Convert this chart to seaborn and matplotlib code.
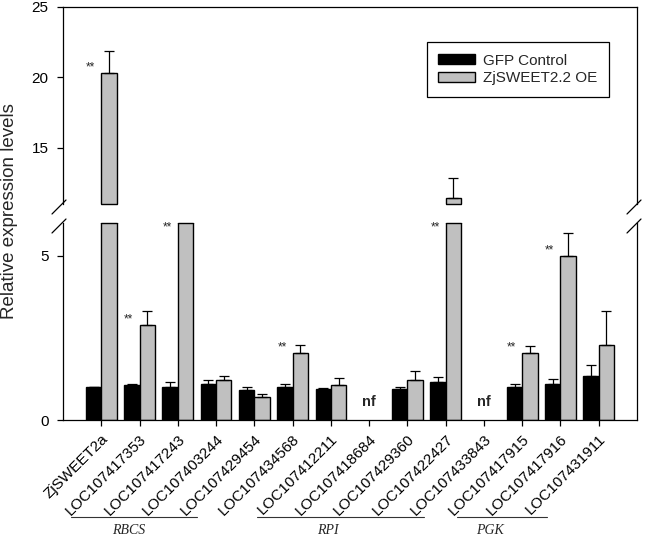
import numpy as np
import pandas as pd
import matplotlib
matplotlib.use("Agg")
import matplotlib.pyplot as plt
import matplotlib.transforms as mtransforms
from matplotlib.lines import Line2D
import seaborn as sns

# ---------------- data ----------------
genes = ["ZjSWEET2a", "LOC107417353", "LOC107417243", "LOC107403244",
         "LOC107429454", "LOC107434568", "LOC107412211", "LOC107418684",
         "LOC107429360", "LOC107422427", "LOC107433843", "LOC107417915",
         "LOC107417916", "LOC107431911"]
groups = ["GFP Control", "ZjSWEET2.2 OE"]
control = [1.00, 1.06, 1.02, 1.11, 0.91, 1.02, 0.94, np.nan,
           0.95, 1.16, np.nan, 1.01, 1.09, 1.35]
control_err = [0.02, 0.04, 0.13, 0.10, 0.10, 0.08, 0.04, np.nan,
               0.06, 0.16, np.nan, 0.09, 0.17, 0.31]
oe = [20.3, 2.90, 8.0, 1.23, 0.70, 2.04, 1.08, np.nan,
      1.21, 11.45, np.nan, 2.04, 5.00, 2.28]
oe_err = [1.6, 0.42, 0.5, 0.11, 0.09, 0.23, 0.19, np.nan,
          0.28, 1.37, np.nan, 0.22, 0.71, 1.04]
significant = ["ZjSWEET2a", "LOC107417353", "LOC107417243", "LOC107434568",
               "LOC107422427", "LOC107417915", "LOC107417916"]
not_found = ["LOC107418684", "LOC107433843"]
gene_groups = ["RBCS", "RPI", "PGK"]
yticks_low = [0, 5]
yticks_high = [15, 20, 25]

df = pd.DataFrame({
    "gene": genes * 2,
    "group": [groups[0]] * len(genes) + [groups[1]] * len(genes),
    "value": control + oe,
})
err_lookup = {groups[0]: control_err, groups[1]: oe_err}

# ---------------- figure ----------------
sns.set_style("ticks")
plt.rcParams["font.family"] = ["Liberation Sans", "DejaVu Sans"]

W, H = 649, 539
fig = plt.figure(figsize=(W / 100, H / 100), dpi=100)
L = 63 / W
AW = 574 / W
ax_top = fig.add_axes([L, 1 - 204 / H, AW, (204 - 7) / H])
ax_bot = fig.add_axes([L, 1 - 420 / H, AW, (420 - 223) / H])

palette = {groups[0]: "#000000", groups[1]: "#c0c0c0"}
LOW_MAX, HIGH_MIN, HIGH_MAX = 6, 11, 25

for ax, show_leg in ((ax_top, True), (ax_bot, False)):
    sns.barplot(data=df, x="gene", y="value", hue="group", order=genes,
                hue_order=groups, palette=palette, saturation=1,
                edgecolor="black", linewidth=1.0, errorbar=None,
                legend=show_leg, ax=ax)
    ax.set_xlim(-1, len(genes))
    ax.set_xlabel("")
    ax.set_ylabel("")
    for s in ax.spines.values():
        s.set_linewidth(0.9)
        s.set_color("black")
    ax.tick_params(axis="both", direction="out", length=4.5, width=0.9,
                   labelsize=11, colors="black", pad=6)

ax_bot.set_ylim(0, LOW_MAX)
ax_top.set_ylim(HIGH_MIN, HIGH_MAX)
ax_bot.set_yticks(yticks_low)
ax_top.set_yticks(yticks_high)
ax_top.spines["bottom"].set_visible(False)
ax_bot.spines["top"].set_visible(False)
ax_top.tick_params(axis="x", bottom=False, labelbottom=False)

# x tick labels
ax_bot.set_xticks(range(len(genes)))
ax_bot.set_xticklabels(genes, rotation=45, ha="right", va="top",
                       rotation_mode="anchor", fontsize=11)
ax_bot.tick_params(axis="x", pad=4)

# error bars + break edges
for ax, lo, hi in ((ax_top, HIGH_MIN, HIGH_MAX), (ax_bot, 0, LOW_MAX)):
    for grp, cont in zip(groups, ax.containers):
        for patch in cont.patches:
            h = patch.get_height()
            if not np.isfinite(h):
                continue
            xc = patch.get_x() + patch.get_width() / 2
            idx = int(round(xc))
            e = err_lookup[grp][idx]
            ax.errorbar([xc], [h], yerr=[[0], [e]], fmt="none",
                        ecolor="black", elinewidth=0.9, capsize=3.3,
                        capthick=0.9, zorder=1)
            if ax is ax_bot and h > hi:
                ax.plot([patch.get_x(), patch.get_x() + patch.get_width()],
                        [hi, hi], color="black", lw=1.0, clip_on=False,
                        zorder=3)
            if ax is ax_top and h > lo:
                ax.plot([patch.get_x(), patch.get_x() + patch.get_width()],
                        [lo, lo], color="black", lw=1.0, clip_on=False,
                        zorder=3)

# significance stars
for g in significant:
    i = genes.index(g)
    v = oe[i]
    if v > HIGH_MIN + 3:
        ax, y = ax_top, v
    else:
        ax, y = ax_bot, min(v, 5.7)
    ax.annotate("**", xy=(i - 0.28, y), xytext=(0, 4),
                textcoords="offset points", ha="center", va="center",
                fontsize=8.5, annotation_clip=False)

# not found labels
for g in not_found:
    i = genes.index(g)
    ax_bot.text(i, 0.55, "nf", ha="center", va="center", fontsize=10.5,
                fontweight="bold")

# legend
handles, labels = ax_top.get_legend_handles_labels()
ax_top.get_legend().remove()
leg = ax_top.legend(handles, labels, loc="upper right",
                    bbox_to_anchor=(0.951, 0.822), fontsize=11,
                    frameon=True, fancybox=False, edgecolor="black",
                    framealpha=1, handlelength=2.4, handleheight=0.6,
                    handletextpad=0.55, labelspacing=0.25, borderpad=0.75,
                    borderaxespad=0)
leg.get_frame().set_linewidth(0.9)

# y label
fig.text(10 / W, 1 - 211 / H, "Relative expression levels", rotation=90,
         ha="center", va="center", fontsize=13.5)

# axis break marks
def slash(xc, yc, d=7):
    fig.add_artist(Line2D([(xc - d) / W, (xc + d) / W],
                          [1 - (yc + d) / H, 1 - (yc - d) / H],
                          color="black", lw=0.9))

for xc in (59, 634):
    slash(xc, 207)
    slash(xc, 226)

# gene-group annotations
blend = mtransforms.blended_transform_factory(ax_bot.transData, fig.transFigure)
spans = [(-0.79, 2.51, 0.73), (4.06, 8.43, 5.92), (9.29, 11.65, 10.16)]
for name, (x0, x1, xt) in zip(gene_groups, spans):
    ax_bot.plot([x0, x1], [1 - 517 / H, 1 - 517 / H], color="#333333",
                lw=0.8, transform=blend, clip_on=False)
    ax_bot.text(xt, 1 - 530 / H, name, transform=blend, ha="center",
                va="center", fontsize=10, fontstyle="italic",
                family=["Liberation Serif", "DejaVu Serif"])

fig.savefig("out.png", dpi=100)
